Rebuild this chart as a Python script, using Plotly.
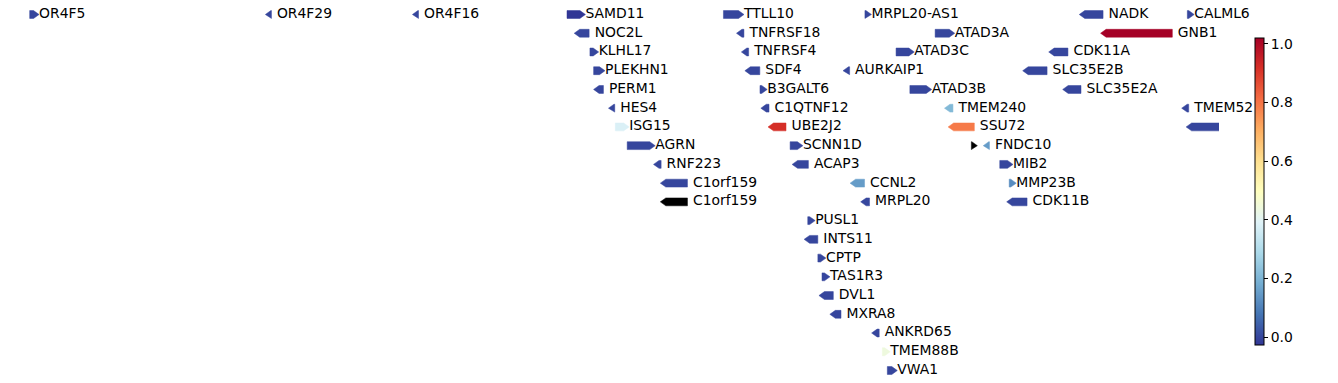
import math
import plotly.graph_objects as go
from plotly.colors import sample_colorscale
import plotly.express as px

# ---------------- data ----------------
gene_names = [
    "OR4F5", "OR4F29", "OR4F16", "SAMD11", "TTLL10", "MRPL20-AS1", "NADK", "CALML6",
    "NOC2L", "TNFRSF18", "ATAD3A", "GNB1",
    "KLHL17", "TNFRSF4", "ATAD3C", "CDK11A",
    "PLEKHN1", "SDF4", "AURKAIP1", "SLC35E2B",
    "PERM1", "B3GALT6", "ATAD3B", "SLC35E2A",
    "HES4", "C1QTNF12", "TMEM240", "TMEM52",
    "ISG15", "UBE2J2", "SSU72", "CFAP74",
    "AGRN", "SCNN1D", "", "FNDC10",
    "RNF223", "ACAP3", "MIB2",
    "C1orf159", "CCNL2", "MMP23B",
    "C1orf159", "MRPL20", "CDK11B",
    "PUSL1", "INTS11", "CPTP", "TAS1R3", "DVL1", "MXRA8", "ANKRD65", "TMEM88B", "VWA1",
]
gene_starts = [
    65419, 450740, 685716, 923923, 1173880, 1400000, 1751232, 1915108,
    944203, 1203508, 1512162, 1785285,
    960584, 1211326, 1449689, 1702381,
    966482, 1216908, 1373730, 1660800,
    975204, 1232265, 1471765, 1724700,
    998962, 1242446, 1535818, 1914826,
    1001138, 1253912, 1541673, 1921950,
    1020123, 1280436, 1570000, 1597800,
    1070967, 1292390, 1615415,
    1081818, 1385069, 1630500,
    1081818, 1401909, 1635227,
    1308597, 1311585, 1324756, 1331346, 1335278, 1352689, 1419417, 1427787, 1435766,
]
gene_ends = [
    71585, 451678, 686654, 944575, 1197936, 1401600, 1780457, 1917296,
    959309, 1206592, 1534687, 1891117,
    965719, 1214138, 1470067, 1724357,
    975865, 1232031, 1375495, 1691000,
    982093, 1235041, 1497848, 1745200,
    1000172, 1246722, 1540624, 1917296,
    1014540, 1273885, 1574769, 2003837,
    1056118, 1292029, 1570800, 1598900,
    1074306, 1309609, 1627781,
    1116361, 1399328, 1633000,
    1116361, 1407313, 1659012,
    1311677, 1324691, 1328897, 1335306, 1349418, 1361777, 1422778, 1431582, 1442882,
]
gene_strands = [
    "+", "-", "-", "+", "+", "+", "-", "+",
    "-", "-", "+", "-",
    "+", "-", "+", "-",
    "+", "-", "-", "-",
    "-", "+", "+", "-",
    "-", "-", "-", "-",
    "+", "-", "-", "-",
    "+", "+", "+", "-",
    "-", "-", "+",
    "-", "-", "+",
    "-", "-", "-",
    "+", "-", "+", "+", "-", "-", "-", "+", "+",
]
gene_rows = [
    0, 0, 0, 0, 0, 0, 0, 0,
    1, 1, 1, 1,
    2, 2, 2, 2,
    3, 3, 3, 3,
    4, 4, 4, 4,
    5, 5, 5, 5,
    6, 6, 6, 6,
    7, 7, 7, 7,
    8, 8, 8,
    9, 9, 9,
    10, 10, 10,
    11, 12, 13, 14, 15, 16, 17, 18, 19,
]
NAN = float("nan")
gene_values = [
    0.0, 0.0, 0.0, -0.027, 0.0, 0.0, 0.0, 0.0,
    0.0, 0.0, 0.0, 1.02,
    0.0, 0.0, 0.0, 0.0,
    0.0, 0.0, 0.0, 0.0,
    0.0, 0.0, 0.0, 0.0,
    0.0, 0.0, 0.21, 0.0,
    0.38, 0.92, 0.79, 0.0,
    0.0, 0.0, NAN, 0.15,
    0.0, 0.0, 0.0,
    0.0, 0.15, 0.12,
    NAN, 0.0, 0.0,
    0.0, 0.0, 0.0, 0.0, 0.0, 0.0, 0.0, 0.44, 0.0,
]
colorbar_ticks = [0.0, 0.2, 0.4, 0.6, 0.8, 1.0]

# view region (genomic coordinates)
REGION_START = 17962
REGION_END = 1965700

# ---------------- style ----------------
W, H = 1338, 383
PLOT_W = 1219
HEAD_PX = 5.5
HALF_H = 0.21
FONT = "DejaVu Sans"
FS = 13.9
ROW_PX = 18.737
TOP_PX = 14.5              # centre of the first row, from the top of the figure

bp_per_px = (REGION_END - REGION_START) / PLOT_W
head = HEAD_PX * bp_per_px

finite = [v for v in gene_values if not math.isnan(v)]
cmin, cmax = min(finite), max(finite)
scale = px.colors.diverging.RdYlBu[::-1]
cscale = [[i / (len(scale) - 1), c] for i, c in enumerate(scale)]


def colour(v):
    if math.isnan(v):
        return "black"
    t = (v - cmin) / (cmax - cmin)
    return sample_colorscale(cscale, [min(max(t, 0), 1)])[0]


fig = go.Figure()
lab_x, lab_y, lab_t = [], [], []
for name, s, e, st, r, v in zip(gene_names, gene_starts, gene_ends, gene_strands, gene_rows, gene_values):
    y0, y1 = r - HALF_H, r + HALF_H
    if st == "+":
        xs = [s, e, e + head, e, s, s]
    else:
        xs = [e, s, s - head, s, e, e]
    ys = [y0, y0, r, y1, y1, y0]
    c = colour(v)
    fig.add_trace(go.Scatter(x=xs, y=ys, mode="lines", fill="toself", fillcolor=c,
                             line=dict(color=c, width=0.5), hoverinfo="text",
                             text=name, showlegend=False))
    lx = e + head
    if name and lx < REGION_END:
        lab_x.append(lx)
        lab_y.append(r)
        lab_t.append(name)

fig.add_trace(go.Scatter(x=lab_x, y=lab_y, text=lab_t, mode="text",
                         textposition="middle right", cliponaxis=False,
                         textfont=dict(family=FONT, size=FS, color="black"),
                         showlegend=False, hoverinfo="skip"))

# colorbar
fig.add_trace(go.Scatter(
    x=[REGION_START, REGION_START], y=[0, 0], mode="markers",
    marker=dict(size=1, opacity=0, color=[cmin, cmax], colorscale=cscale,
                cmin=cmin, cmax=cmax, showscale=True,
                colorbar=dict(
                    thickness=9, thicknessmode="pixels",
                    len=307, lenmode="pixels",
                    x=1255 / W, xanchor="left", xref="container",
                    y=1 - 191.5 / H, yanchor="middle", yref="container",
                    xpad=0, ypad=0,
                    outlinewidth=1, outlinecolor="black",
                    ticks="outside", ticklen=4, tickwidth=1, tickcolor="black",
                    tickvals=colorbar_ticks,
                    ticktext=[f"{t:.1f}" for t in colorbar_ticks],
                    tickfont=dict(family=FONT, size=FS, color="black"),
                )),
    showlegend=False, hoverinfo="skip"))

y_top = -TOP_PX / ROW_PX
y_bot = (H - TOP_PX) / ROW_PX
fig.update_layout(
    width=W, height=H,
    margin=dict(l=0, r=W - PLOT_W, t=0, b=0),
    paper_bgcolor="white", plot_bgcolor="white",
    xaxis=dict(range=[REGION_START, REGION_END], visible=False, showgrid=False, zeroline=False),
    yaxis=dict(range=[y_bot, y_top], visible=False, showgrid=False, zeroline=False),
    font=dict(family=FONT, size=FS, color="black"),
)
fig.write_html("out.html", config={"displayModeBar": False},
               post_script="document.body.style.margin='0';document.body.style.overflow='hidden';")
